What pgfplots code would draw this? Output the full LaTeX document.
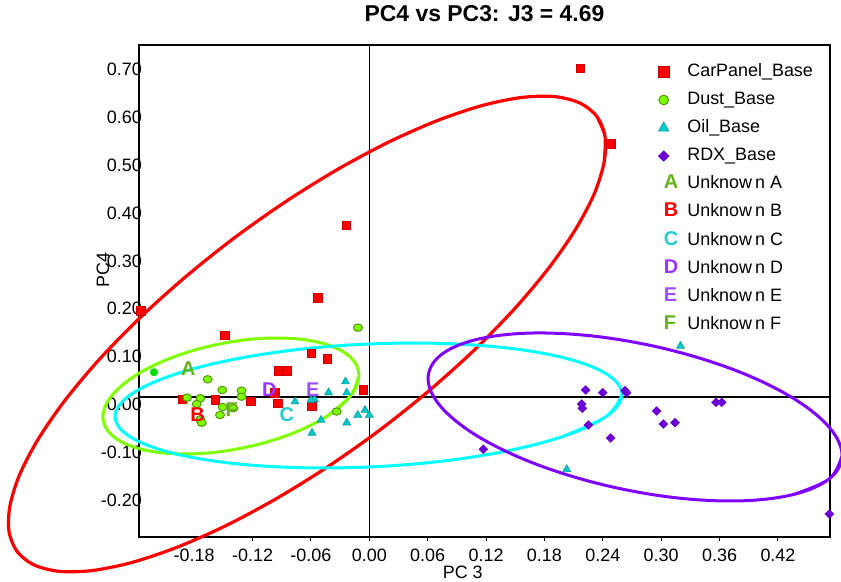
\documentclass[border=0pt]{standalone}
\usepackage{pgfplots}
\pgfplotsset{compat=1.18}
\usepackage{fontspec}
\setmainfont{Liberation Sans}
\definecolor{cpred}{HTML}{FF0000}
\definecolor{cpedge}{HTML}{CC0000}
\definecolor{dustfill}{HTML}{80FF00}
\definecolor{dustedge}{HTML}{4D9900}
\definecolor{dustell}{HTML}{80FF00}
\definecolor{brightgreen}{HTML}{00DD00}
\definecolor{oilfill}{HTML}{00CCCC}
\definecolor{oiledge}{HTML}{009999}
\definecolor{oilell}{HTML}{00FFFF}
\definecolor{rdxfill}{HTML}{6A00D5}
\definecolor{rdxell}{HTML}{8000FF}
\definecolor{colA}{HTML}{66B21A}
\definecolor{colB}{HTML}{FF0000}
\definecolor{colC}{HTML}{20CCCC}
\definecolor{colD}{HTML}{9933FF}
\definecolor{colE}{HTML}{A050FF}
\definecolor{colF}{HTML}{66B21A}

\pgfplotstableread{
x y
0.2169 0.6877
0.2484 0.5293
-0.0236 0.3592
-0.0530 0.2077
-0.2346 0.1799
-0.1483 0.1291
-0.0596 0.0910
-0.0430 0.0801
-0.0935 0.0550
-0.0849 0.0550
-0.0062 0.0146
-0.0969 0.0094
-0.1216 -0.0094
-0.1581 -0.0063
-0.1920 -0.0046
-0.0941 -0.0132
-0.0594 -0.0195
}\carpanel

\pgfplotstableread{
x y
-0.0116 0.1450
-0.1661 0.0370
-0.1511 0.0146
-0.1313 0.0132
-0.1313 0.0006
-0.1871 -0.0015
-0.1737 -0.0027
-0.1774 -0.0146
-0.1507 -0.0209
-0.1398 -0.0236
-0.1534 -0.0377
-0.1737 -0.0467
-0.1723 -0.0538
-0.0335 -0.0303
}\dust

\pgfplotstableread{
x y
-0.0245 0.0320
-0.0419 0.0094
-0.0232 0.0090
-0.0565 -0.0048
-0.0764 -0.0098
-0.0599 -0.0063
-0.0496 -0.0481
-0.0232 -0.0538
-0.0589 -0.0753
-0.0119 -0.0377
-0.0044 -0.0272
0.0000 -0.0377
0.2029 -0.1513
0.3198 0.1067
}\oil

\pgfplotstableread{
x y
0.2224 0.0146
0.2399 0.0090
0.2628 0.0132
0.2645 0.0090
0.2183 -0.0146
0.2189 -0.0236
0.2954 -0.0293
0.3022 -0.0565
0.3142 -0.0538
0.3563 -0.0111
0.3622 -0.0111
0.2251 -0.0586
0.2481 -0.0858
0.1172 -0.1094
0.4728 -0.2448
}\rdx

\begin{document}
\begin{tikzpicture}
\path[use as bounding box] (-139bp,-45bp) rectangle (702bp,537bp);
\begin{axis}[
  at={(0,0)}, anchor=south west,
  scale only axis, width=691bp, height=492bp,
  xmin=-0.2367, xmax=0.4735, ymin=-0.2929, ymax=0.7364,
  clip=false,
  axis line style={black, line width=1.2bp},
  xtick={-0.18,-0.12,-0.06,0,0.06,0.12,0.18,0.24,0.30,0.36,0.42},
  xticklabels={-0.18,-0.12,-0.06,0.00,0.06,0.12,0.18,0.24,0.30,0.36,0.42},
  ytick={-0.2,-0.1,0,0.1,0.2,0.3,0.4,0.5,0.6,0.7},
  yticklabels={-0.20,-0.10,0.00,0.10,0.20,0.30,0.40,0.50,0.60,0.70},
  tick label style={font=\fontsize{18}{21}\selectfont},
  xtick pos=left, ytick pos=left, tick align=outside, major tick length=4bp,
  xtick style={black, line width=1bp},
  ytick style={draw=none},
  yticklabel style={anchor=base east, inner sep=0pt, xshift=7bp, yshift=-13.5bp},
  xticklabel style={anchor=base, inner sep=0pt, yshift=-20bp},
  title={PC4 vs PC3: J3 = 4.69},
  title style={font=\bfseries\fontsize{23}{25}\selectfont, at={(0.5,1)}, anchor=base, yshift=18bp},
  xlabel={PC 3},
  xlabel style={font=\fontsize{18}{21}\selectfont, at={(0.4685,0)}, anchor=base, yshift=-41.3bp},
  ylabel={PC4},
  ylabel style={font=\fontsize{18}{21}\selectfont, at={(-0.0521,0.5427)}, anchor=center},
  legend cell align=left,
  legend style={at={(0.7510,0.9634)}, anchor=north west, draw=none, fill=none, inner sep=0pt,
    font=\fontsize{18}{21}\selectfont,
    nodes={inner sep=0pt, text height=13.5bp, text depth=4bp},
    row sep=10.55bp,
    /tikz/every odd column/.style={column sep=9bp}},
]
% zero lines
\addplot[black, line width=1.3bp, forget plot] coordinates {(0,-0.2929) (0,0.7364)};
\addplot[black, line width=1.3bp, forget plot] coordinates {(-0.2367,0) (0.4735,0)};

% base series
\addplot[only marks, mark=square*, mark size=4.3bp, mark options={fill=cpred, draw=cpedge, line width=0.6bp},
  legend image post style={mark size=5.6bp}] table {\carpanel};
\addlegendentry{CarPanel\_Base}
\addplot[only marks, mark=*, mark size=3.7bp, mark options={fill=dustfill, draw=dustedge, line width=1bp, xscale=1.2},
  legend image post style={mark size=4.8bp, mark options={fill=dustfill, draw=dustedge, line width=1bp}}] table {\dust};
\addlegendentry{Dust\_Base}
\addplot[only marks, mark=triangle*, mark size=4.5bp, mark options={fill=oilfill, draw=oiledge, line width=0.6bp},
  legend image post style={mark size=6bp}] table {\oil};
\addlegendentry{Oil\_Base}
\addplot[only marks, mark=diamond*, mark size=4.3bp, mark options={fill=rdxfill, draw=rdxfill, line width=0.6bp, xscale=1.35},
  legend image post style={mark size=5.2bp}] table {\rdx};
\addlegendentry{RDX\_Base}

% unknowns
\addplot[colA, only marks, mark=text, text mark={A}, text mark as node=true, text mark style={font=\bfseries\fontsize{20}{20}\selectfont, text=colA, inner sep=0pt}] coordinates {(-0.1860,0.0600)};
\addlegendentry{Unknow\kern3bp n A}
\addplot[colB, only marks, mark=text, text mark={B}, text mark as node=true, text mark style={font=\bfseries\fontsize{20}{20}\selectfont, text=colB, inner sep=0pt}] coordinates {(-0.1764,-0.0377)};
\addlegendentry{Unknow\kern3bp n B}
\addplot[colC, only marks, mark=text, text mark={C}, text mark as node=true, text mark style={font=\bfseries\fontsize{20}{20}\selectfont, text=colC, inner sep=0pt}] coordinates {(-0.0849,-0.0377)};
\addlegendentry{Unknow\kern3bp n C}
\addplot[colD, only marks, mark=text, text mark={D}, text mark as node=true, text mark style={font=\bfseries\fontsize{20}{20}\selectfont, text=colD, inner sep=0pt}] coordinates {(-0.1028,0.0146)};
\addlegendentry{Unknow\kern3bp n D}
\addplot[colE, only marks, mark=text, text mark={E}, text mark as node=true, text mark style={font=\bfseries\fontsize{20}{20}\selectfont, text=colE, inner sep=0pt}] coordinates {(-0.0582,0.0146)};
\addlegendentry{Unknow\kern3bp n E}
\addplot[colF, only marks, mark=text, text mark={F}, text mark as node=true, text mark style={font=\bfseries\fontsize{20}{20}\selectfont, text=colF, inner sep=0pt}] coordinates {(-0.1414,-0.0272)};
\addlegendentry{Unknow\kern3bp n F}

\addplot[only marks, mark=*, mark size=3.8bp, mark options={fill=brightgreen, draw=brightgreen}, forget plot] coordinates {(-0.2213,0.0517)};

% ellipses
\addplot[cpred, line width=3.2bp, smooth, tension=0.5, forget plot] coordinates {
(0.2339,0.5869) (0.2423,0.5450) (0.2413,0.4906) (0.2312,0.4251) (0.2120,0.3508) (0.1845,0.2699)
(0.1494,0.1848) (0.1078,0.0980) (0.0609,0.0123) (0.0104,-0.0698) (-0.0425,-0.1457) (-0.0960,-0.2132)
(-0.1486,-0.2704) (-0.1985,-0.3151) (-0.2444,-0.3464) (-0.2848,-0.3631) (-0.3185,-0.3648) (-0.3445,-0.3514)
(-0.3619,-0.3233) (-0.3703,-0.2814) (-0.3693,-0.2270) (-0.3592,-0.1615) (-0.3400,-0.0872) (-0.3125,-0.0063)
(-0.2774,0.0788) (-0.2358,0.1656) (-0.1889,0.2513) (-0.1384,0.3334) (-0.0855,0.4093) (-0.0320,0.4768)
(0.0206,0.5340) (0.0705,0.5787) (0.1164,0.6100) (0.1568,0.6267) (0.1905,0.6284) (0.2165,0.6150)
(0.2339,0.5869) (0.2423,0.5450) (0.2413,0.4906)};
\addplot[dustell, line width=3bp, smooth, tension=0.6, forget plot] coordinates {
(-0.0107,0.0457) (-0.0186,0.0044) (-0.0414,-0.0373) (-0.0764,-0.0741) (-0.1194,-0.1018) (-0.1650,-0.1170)
(-0.2080,-0.1178) (-0.2430,-0.1041) (-0.2658,-0.0776) (-0.2738,-0.0415) (-0.2658,-0.0002) (-0.2430,0.0414)
(-0.2080,0.0783) (-0.1650,0.1060) (-0.1194,0.1212) (-0.0764,0.1220) (-0.0414,0.1083) (-0.0186,0.0818)
(-0.0107,0.0457) (-0.0186,0.0044) (-0.0414,-0.0373)};
\addplot[oilell, line width=3bp, smooth, tension=0.6, forget plot] coordinates {
(0.2597,0.0054) (0.2440,-0.0400) (0.1988,-0.0827) (0.1295,-0.1176) (0.0444,-0.1405) (-0.0460,-0.1485)
(-0.1311,-0.1408) (-0.2004,-0.1183) (-0.2456,-0.0836) (-0.2613,-0.0410) (-0.2456,0.0044) (-0.2004,0.0471)
(-0.1311,0.0820) (-0.0460,0.1049) (0.0444,0.1129) (0.1295,0.1052) (0.1988,0.0827) (0.2440,0.0480)
(0.2597,0.0054) (0.2440,-0.0400) (0.1988,-0.0827)};
\addplot[rdxell, line width=3bp, smooth, tension=0.6, forget plot] coordinates {
(0.4859,-0.1223) (0.4730,-0.1709) (0.4361,-0.2039) (0.3795,-0.2174) (0.3100,-0.2096) (0.2362,-0.1816)
(0.1667,-0.1368) (0.1101,-0.0805) (0.0732,-0.0195) (0.0604,0.0387) (0.0732,0.0873) (0.1101,0.1203)
(0.1667,0.1338) (0.2362,0.1260) (0.3100,0.0980) (0.3795,0.0532) (0.4361,-0.0031) (0.4730,-0.0641)
(0.4859,-0.1223) (0.4730,-0.1709) (0.4361,-0.2039)};
\end{axis}
\end{tikzpicture}
\end{document}
